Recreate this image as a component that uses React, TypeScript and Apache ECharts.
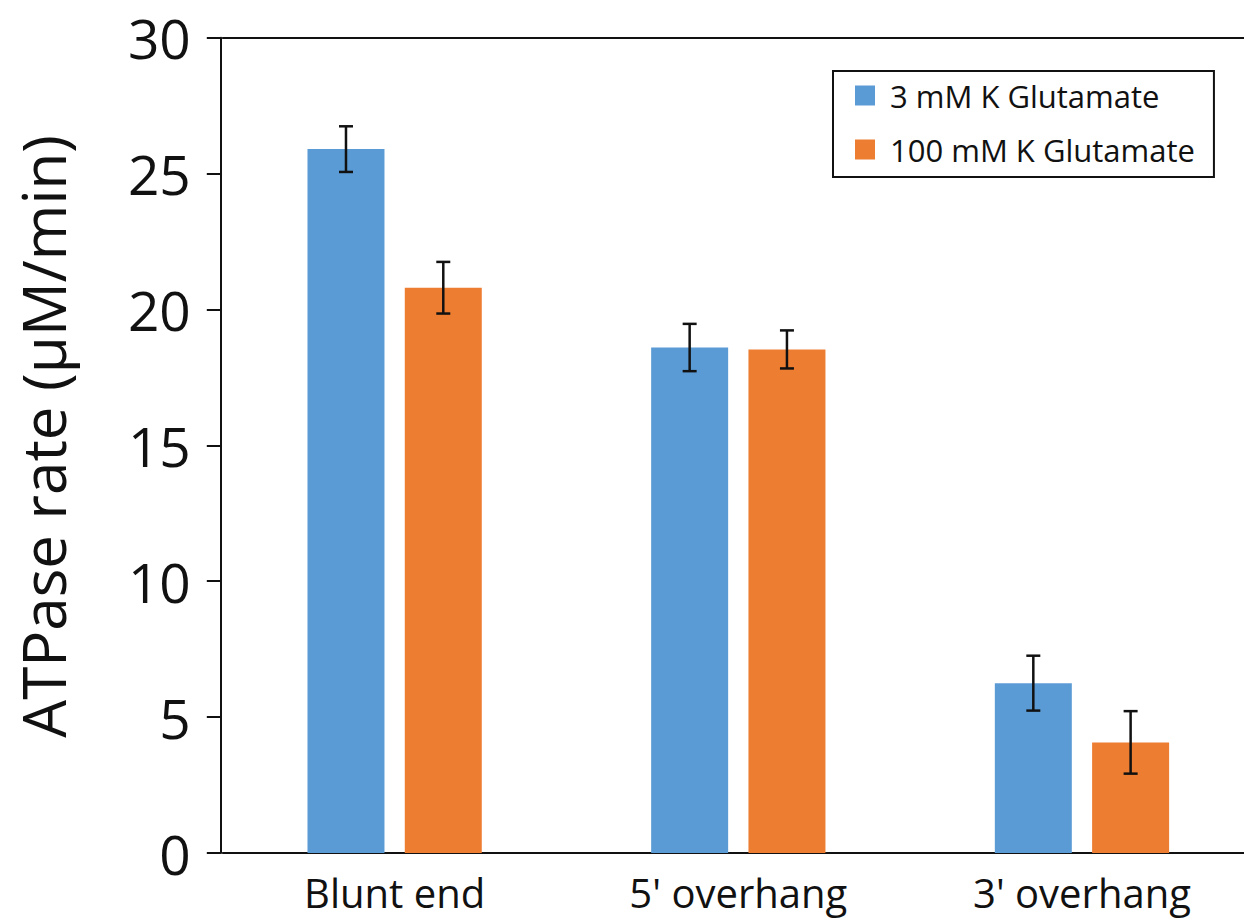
import React, { useEffect, useRef } from "react";
import * as echarts from "echarts";

const categories = ["Blunt end", "5' overhang", "3' overhang"];
const seriesNames = ["3 mM K Glutamate", "100 mM K Glutamate"];
const lowSaltValues = [25.9, 18.6, 6.25];
const lowSaltErrors = [0.84, 0.87, 1.01];
const highSaltValues = [20.8, 18.53, 4.07];
const highSaltErrors = [0.95, 0.7, 1.15];
const yTicks = { min: 0, max: 30, interval: 5 };

const FONT = "'Open Sans', 'Noto Sans', sans-serif";
const BAR_W = 77;
const BAR_GAP_PX = 20.3;

function errorData(vals: number[], errs: number[]) {
  return vals.map((v, i) => [i, v - errs[i], v + errs[i]]);
}

function makeErrorSeries(vals: number[], errs: number[], sign: number) {
  const offset = sign * (BAR_W + BAR_GAP_PX) / 2;
  return {
    type: "custom",
    silent: true,
    z: 10,
    data: errorData(vals, errs),
    encode: { x: 0, y: [1, 2] },
    renderItem: (params: any, api: any) => {
      const lo = api.coord([api.value(0), api.value(1)]);
      const hi = api.coord([api.value(0), api.value(2)]);
      const x = lo[0] + offset;
      const cap = 7;
      const style = { stroke: "#111", lineWidth: 2.5 };
      return {
        type: "group",
        children: [
          { type: "line", shape: { x1: x, y1: hi[1], x2: x, y2: lo[1] }, style },
          { type: "line", shape: { x1: x - cap, y1: hi[1], x2: x + cap, y2: hi[1] }, style },
          { type: "line", shape: { x1: x - cap, y1: lo[1], x2: x + cap, y2: lo[1] }, style },
        ],
      };
    },
  };
}

export default function App() {
  const ref = useRef<HTMLDivElement>(null);
  useEffect(() => {
    if (!ref.current) return;
    const chart = echarts.init(ref.current, null, { renderer: "svg" });
    chart.setOption({
      animation: false,
      backgroundColor: "#ffffff",
      textStyle: { fontFamily: FONT },
      grid: { left: 222.8, top: 37.7, width: 1031, height: 815.3, containLabel: false },
      legend: {
        orient: "vertical",
        left: 833,
        top: 71,
        data: seriesNames,
        itemWidth: 20,
        itemHeight: 20,
        itemGap: 23,
        icon: "rect",
        padding: [9, 19, 12, 22],
        borderColor: "#111",
        borderWidth: 2,
        textStyle: {
          fontFamily: FONT,
          fontSize: 31,
          color: "#111",
          padding: [0, 0, 0, 10],
        },
      },
      xAxis: [
        {
          type: "category",
          data: categories,
          axisLine: { show: true, lineStyle: { color: "#111", width: 2 } },
          axisTick: { show: false },
          axisLabel: { fontFamily: FONT, fontSize: 40, color: "#111", margin: 19 },
        },
        {
          type: "category",
          data: categories,
          position: "top",
          axisLine: { show: true, lineStyle: { color: "#111", width: 2 } },
          axisTick: { show: false },
          axisLabel: { show: false },
        },
      ],
      yAxis: {
        type: "value",
        min: yTicks.min,
        max: yTicks.max,
        interval: yTicks.interval,
        offset: 2,
        splitLine: { show: false },
        axisLine: { show: true, lineStyle: { color: "#111", width: 2 } },
        axisTick: { show: true, length: 14, lineStyle: { color: "#111", width: 2 } },
        axisLabel: { fontFamily: FONT, fontSize: 55, color: "#111", margin: 30 },
        name: "ATPase rate (µM/min)",
        nameLocation: "middle",
        nameGap: 148,
        nameRotate: 90,
        nameTextStyle: { fontFamily: FONT, fontSize: 60, color: "#111", padding: [0, 0, 0, 18] },
      },
      series: [
        {
          name: seriesNames[0],
          type: "bar",
          data: lowSaltValues,
          barWidth: BAR_W,
          barGap: `${(BAR_GAP_PX / BAR_W) * 100}%`,
          itemStyle: { color: "#5B9BD5" },
        },
        {
          name: seriesNames[1],
          type: "bar",
          data: highSaltValues,
          barWidth: BAR_W,
          barGap: `${(BAR_GAP_PX / BAR_W) * 100}%`,
          itemStyle: { color: "#ED7D31" },
        },
        makeErrorSeries(lowSaltValues, lowSaltErrors, -1),
        makeErrorSeries(highSaltValues, highSaltErrors, 1),
      ],
    });
    return () => chart.dispose();
  }, []);
  return (
    <div
      style={{ position: "absolute", left: 0, top: 0, width: 1244, height: 920, overflow: "hidden", background: "#fff" }}
    >
      <div ref={ref} style={{ width: 1280, height: 920 }} />
    </div>
  );
}
